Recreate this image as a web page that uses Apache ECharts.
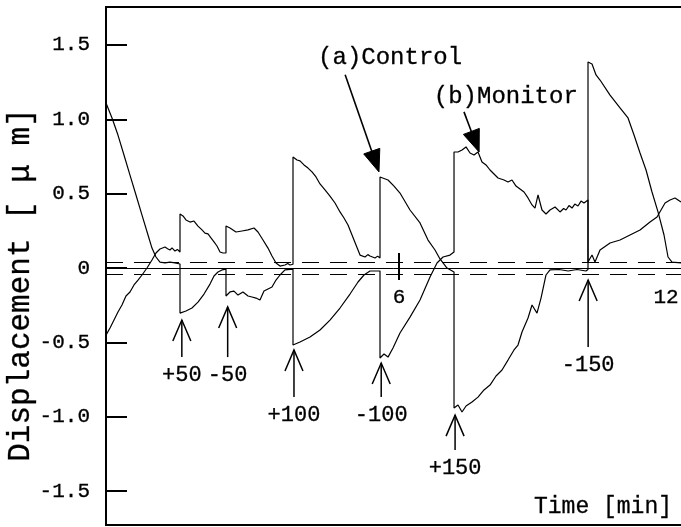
<!DOCTYPE html>
<html>
<head>
<meta charset="utf-8">
<script src="https://cdn.jsdelivr.net/npm/echarts@6/dist/echarts.min.js"></script>
<style>
  html, body { margin: 0; padding: 0; background: #fff; }
  #chart { width: 681px; height: 527px; }
</style>
</head>
<body>
<div id="chart"></div>
<script>
// time [min], displacement [um]
const control = [
  [-0.584, -0.451], [-0.494, -0.403], [-0.382, -0.336], [-0.315, -0.296], [-0.225, -0.249],
  [-0.135, -0.188], [-0.045, -0.161], [0.045, -0.114], [0.135, -0.081], [0.225, -0.047],
  [0.337, 0], [0.449, 0.054], [0.539, 0.101], [0.629, 0.128], [0.742, 0.141], [0.8, 0.13],
  [0.854, 0.121], [0.9, 0.135], [0.966, 0.114], [1.02, 0.125], [1.079, 0.108],
  [1.079, 0.363], [1.146, 0.35], [1.213, 0.323], [1.303, 0.309], [1.393, 0.316], [1.483, 0.282],
  [1.573, 0.256], [1.64, 0.235], [1.708, 0.229], [1.775, 0.202], [1.843, 0.175], [1.91, 0.148],
  [1.978, 0.108], [2.045, 0.101], [2.112, 0.101],
  [2.112, 0.282], [2.202, 0.269], [2.337, 0.242], [2.472, 0.249], [2.607, 0.256], [2.742, 0.269],
  [2.831, 0.242], [2.944, 0.188], [3.056, 0.134], [3.146, 0.081], [3.236, 0.034], [3.326, 0.013],
  [3.438, 0.02], [3.5, 0.03], [3.551, 0.02], [3.618, 0.025],
  [3.618, 0.746], [3.708, 0.726], [3.775, 0.72], [3.865, 0.693], [3.955, 0.672], [4.045, 0.646],
  [4.135, 0.612], [4.225, 0.565], [4.337, 0.525], [4.449, 0.484], [4.562, 0.437], [4.674, 0.377],
  [4.764, 0.336], [4.854, 0.289], [4.944, 0.222], [5.034, 0.155], [5.124, 0.087], [5.236, 0.074],
  [5.3, 0.09], [5.348, 0.081], [5.461, 0.067], [5.52, 0.08], [5.573, 0.067],
  [5.573, 0.612], [5.753, 0.592], [5.888, 0.551], [6.022, 0.504], [6.247, 0.39], [6.472, 0.303],
  [6.652, 0.188], [6.809, 0.121], [6.921, 0.061], [7.079, 0], [7.236, -0.027],
  [7.236, -0.941], [7.326, -0.921], [7.416, -0.968], [7.506, -0.928], [7.64, -0.901], [7.775, -0.868],
  [7.91, -0.82], [8.045, -0.787], [8.18, -0.726], [8.315, -0.686], [8.449, -0.619], [8.584, -0.551],
  [8.674, -0.518], [8.764, -0.43], [8.899, -0.336], [8.989, -0.249], [9.101, -0.303], [9.191, -0.202],
  [9.303, -0.047], [9.393, -0.013], [9.6, -0.01], [9.8, -0.02], [10.0, -0.01], [10.2, -0.02],
  [10.247, -0.01],
  [10.247, 1.385], [10.337, 1.372], [10.427, 1.298], [10.517, 1.264], [10.742, 1.163], [10.966, 1.076],
  [11.146, 1.009], [11.281, 0.894], [11.416, 0.773], [11.551, 0.659], [11.685, 0.511], [11.82, 0.377],
  [11.955, 0.222], [12.045, 0.074], [12.135, 0.04], [12.337, 0.034]
];

const monitor = [
  [-0.584, 1.11], [-0.449, 1.009], [-0.315, 0.894], [-0.18, 0.76], [-0.045, 0.625], [0.09, 0.491],
  [0.225, 0.356], [0.36, 0.222], [0.449, 0.134], [0.539, 0.074], [0.629, 0.04], [0.742, 0.034],
  [0.854, 0.04], [0.966, 0.034], [1.079, 0.027],
  [1.079, -0.303], [1.213, -0.289], [1.348, -0.269], [1.483, -0.229], [1.618, -0.175], [1.753, -0.108],
  [1.843, -0.054], [1.933, -0.027], [2.022, -0.013], [2.112, -0.007],
  [2.112, -0.188], [2.202, -0.161], [2.292, -0.155], [2.382, -0.182], [2.494, -0.161], [2.607, -0.188],
  [2.697, -0.195], [2.787, -0.202], [2.876, -0.215], [2.966, -0.155], [3.056, -0.141], [3.146, -0.128],
  [3.236, -0.081], [3.326, -0.047], [3.438, -0.013], [3.618, -0.007],
  [3.618, -0.518], [3.775, -0.498], [4.0, -0.464], [4.225, -0.417], [4.449, -0.35], [4.674, -0.269],
  [4.899, -0.175], [5.079, -0.094], [5.213, -0.047], [5.348, -0.02], [5.573, -0.02],
  [5.573, -0.605], [5.663, -0.578], [5.753, -0.599], [5.865, -0.538], [6.022, -0.437], [6.247, -0.33],
  [6.472, -0.215], [6.697, -0.061], [6.854, 0.034], [6.989, 0.074], [7.146, 0.087], [7.236, 0.108],
  [7.236, 0.78], [7.326, 0.78], [7.416, 0.794], [7.506, 0.814], [7.596, 0.773], [7.685, 0.76],
  [7.775, 0.78], [7.865, 0.713], [7.955, 0.693], [8.045, 0.659], [8.135, 0.632], [8.225, 0.605],
  [8.36, 0.592], [8.449, 0.578], [8.539, 0.592], [8.629, 0.551], [8.719, 0.531], [8.809, 0.511],
  [8.899, 0.471], [8.989, 0.424], [9.056, 0.403], [9.124, 0.491], [9.213, 0.39], [9.303, 0.363],
  [9.393, 0.39], [9.506, 0.41], [9.618, 0.377], [9.7, 0.4], [9.753, 0.39], [9.82, 0.42],
  [9.888, 0.403], [9.95, 0.43], [10.022, 0.417], [10.09, 0.45], [10.157, 0.437], [10.247, 0.457],
  [10.247, 0.04], [10.337, 0.087], [10.404, 0.04], [10.517, 0.121], [10.742, 0.168], [10.966, 0.188],
  [11.191, 0.222], [11.416, 0.256], [11.64, 0.309], [11.798, 0.343], [11.978, 0.437], [12.09, 0.457],
  [12.202, 0.471], [12.337, 0.444]
];

const yTicks = [-1.5, -1.0, -0.5, 0, 0.5, 1.0, 1.5];
const xTickLabels = [6, 12];
const xTickLabelLevel = -0.2;
const bandLevels = [0.037, -0.037];

const eventTimes = [1.12, 2.15, 3.64, 5.6, 7.26, 10.25];
const eventLabels = ['+50', '-50', '+100', '-100', '+150', '-150'];
const eventTips = [-0.35, -0.262, -0.551, -0.639, -0.989, -0.081];
const eventTails = [-0.599, -0.599, -0.868, -0.868, -1.224, -0.531];

const calloutNames = ['(a)Control', '(b)Monitor'];
const calloutTips = [[5.55, 0.646], [7.80, 0.78]];
const calloutTails = [[4.79, 1.30], [7.46, 1.05]];
const calloutText = [[5.80, 1.412], [8.40, 1.15]];

const FONT = '"Liberation Mono", "DejaVu Sans Mono", monospace';
const INK = '#000';
const HEAVY = { stroke: INK, lineWidth: 0.3 };

function renderEvent(params, api) {
  const tip = api.coord([api.value(0), api.value(1)]);
  const tail = api.coord([api.value(0), api.value(2)]);
  const x = tip[0];
  return {
    type: 'group',
    children: [
      { type: 'line', shape: { x1: x, y1: tip[1], x2: x, y2: tail[1] },
        style: { stroke: INK, lineWidth: 1.5 } },
      { type: 'polyline', shape: { points: [[x - 9, tip[1] + 21], [x, tip[1]], [x + 9, tip[1] + 21]] },
        style: { stroke: INK, fill: 'none', lineWidth: 1.5 } },
      { type: 'text', x: x, y: tail[1] + 18,
        style: Object.assign({ text: eventLabels[params.dataIndex], fontSize: 22, fontFamily: FONT, fill: INK,
                 align: 'center', verticalAlign: 'middle' }, HEAVY) }
    ]
  };
}

function renderCallout(params, api) {
  const i = params.dataIndex;
  const tip = api.coord(calloutTips[i]);
  const tail = api.coord(calloutTails[i]);
  const txt = api.coord(calloutText[i]);
  let dx = tip[0] - tail[0], dy = tip[1] - tail[1];
  const len = Math.sqrt(dx * dx + dy * dy);
  dx /= len; dy /= len;
  const L = 22, W = 8.5;
  const bx = tip[0] - L * dx, by = tip[1] - L * dy;
  return {
    type: 'group',
    children: [
      { type: 'line', shape: { x1: tail[0], y1: tail[1], x2: bx + 4 * dx, y2: by + 4 * dy },
        style: { stroke: INK, lineWidth: 1.6 } },
      { type: 'polygon',
        shape: { points: [[tip[0], tip[1]], [bx - W * dy, by + W * dx], [bx + W * dy, by - W * dx]] },
        style: { fill: INK, stroke: INK, lineWidth: 1 } },
      { type: 'text', x: txt[0], y: txt[1],
        style: Object.assign({ text: calloutNames[i], fontSize: 24, fontFamily: FONT, fill: INK,
                 align: 'center', verticalAlign: 'middle' }, HEAVY) }
    ]
  };
}

const chart = echarts.init(document.getElementById('chart'));
chart.setOption({
  animation: false,
  backgroundColor: '#fff',
  grid: {
    left: 106, top: 7, right: -3, bottom: 2,
    outerBoundsMode: 'none',
    containLabel: false,
    show: true, borderColor: INK, borderWidth: 2
  },
  xAxis: {
    type: 'value',
    min: -0.584,
    max: 12.404,
    axisLine: { onZero: true, lineStyle: { color: INK, width: 1 } },
    axisTick: { show: false },
    splitLine: { show: false },
    axisLabel: { show: false }
  },
  yAxis: {
    type: 'value',
    min: -1.728,
    max: 1.755,
    axisLine: { show: true, onZero: false, lineStyle: { color: INK, width: 2 } },
    axisTick: { show: true, inside: true, length: 21, customValues: yTicks,
                lineStyle: { color: INK, width: 2 } },
    splitLine: { show: false },
    axisLabel: {
      customValues: yTicks,
      margin: 16,
      color: INK,
      fontSize: 21,
      fontFamily: FONT,
      textBorderColor: INK,
      textBorderWidth: 0.3,
      formatter: v => (v === 0 ? '0' : v.toFixed(1))
    }
  },
  graphic: [
    { type: 'text', x: 21, y: 285, rotation: Math.PI / 2,
      style: { text: 'Displacement [ μ m]', fontSize: 31, fontFamily: FONT, fill: INK,
               stroke: INK, lineWidth: 0.3, align: 'center', verticalAlign: 'middle' } },
    { type: 'text', x: 672, y: 507,
      style: { text: 'Time [min]', fontSize: 23, fontFamily: FONT, fill: INK,
               stroke: INK, lineWidth: 0.3, align: 'right', verticalAlign: 'middle' } }
  ],
  series: [
    {
      name: '(a)Control',
      type: 'line',
      data: control,
      showSymbol: false,
      lineStyle: { color: INK, width: 1.2 },
      markLine: {
        silent: true,
        symbol: 'none',
        label: { show: false },
        data: bandLevels.map(v => ({ yAxis: v, lineStyle: { color: INK, width: 1, type: [17, 11] } }))
          .concat([[{ coord: [6, 0.101], lineStyle: { color: INK, width: 2, type: 'solid' } },
                    { coord: [6, -0.081] }]])
      }
    },
    {
      name: '(b)Monitor',
      type: 'line',
      data: monitor,
      showSymbol: false,
      lineStyle: { color: INK, width: 1.2 },
      markPoint: {
        silent: true,
        symbol: 'circle',
        symbolSize: 0,
        itemStyle: { color: 'transparent' },
        label: {
          show: true,
          position: 'inside',
          formatter: p => String(p.value),
          color: INK,
          fontSize: 21,
          fontFamily: FONT,
          textBorderColor: INK,
          textBorderWidth: 0.3
        },
        data: xTickLabels.map(t => ({ coord: [t, xTickLabelLevel], value: t }))
      }
    },
    {
      type: 'custom',
      clip: false,
      silent: true,
      renderItem: renderEvent,
      data: eventTimes.map((t, i) => [t, eventTips[i], eventTails[i]])
    },
    {
      type: 'custom',
      clip: false,
      silent: true,
      renderItem: renderCallout,
      data: calloutTips.map(p => [p[0], p[1]])
    }
  ]
});
</script>
</body>
</html>
